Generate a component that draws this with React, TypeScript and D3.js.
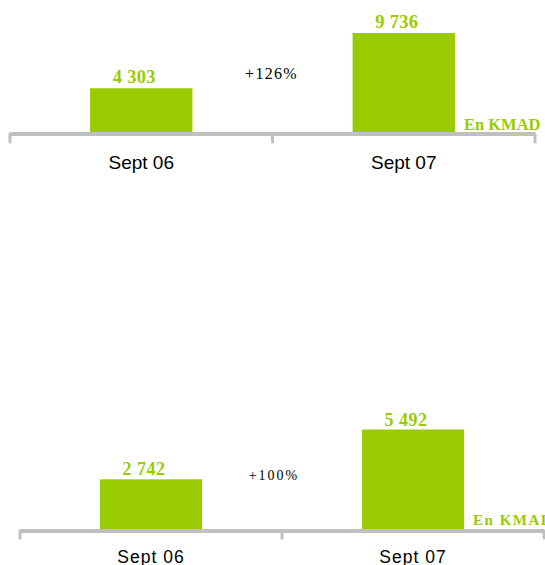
import React, { useEffect, useRef } from "react";
import * as d3 from "d3";

// Two small bar panels (top and bottom) comparing Sept 06 vs Sept 07
const periods = ["Sept 06", "Sept 07"];
const topValues = [4303, 9736];
const bottomValues = [2742, 5492];
const growthLabels = ["+126%", "+100%"];
const unitLabel = "En KMAD";

const GREEN = "#99cc00";
const GREY = "#c0c0c0";

// "4 303" style thousands separator
const fmt = d3.formatLocale({ decimal: ",", thousands: " ", grouping: [3], currency: ["", ""] }).format(",d");

type PanelLayout = {
  x0: number; x1: number; baseY: number; topY: number; axisY: number; tickLen: number;
  catY: number; catSize: number; catLs: number;
  valSize: number; valLs: number; valDx: number; valGap: number;
  growthY: number; growthDx: number; growthSize: number; growthLs: number;
  unitSize: number; unitLs: number; unitDy: number;
};

const topLayout: PanelLayout = {
  x0: 10, x1: 535, baseY: 132, topY: 33, axisY: 134, tickLen: 8,
  catY: 169, catSize: 19, catLs: 0,
  valSize: 18.5, valLs: 0.3, valDx: -7, valGap: 5.5,
  growthY: 79, growthDx: -1, growthSize: 16, growthLs: 1.3,
  unitSize: 16.5, unitLs: 0, unitDy: -2,
};

const bottomLayout: PanelLayout = {
  x0: 20, x1: 544, baseY: 529, topY: 429.5, axisY: 531, tickLen: 7,
  catY: 562.5, catSize: 17.5, catLs: 1,
  valSize: 18, valLs: 0.5, valDx: -7, valGap: 4,
  growthY: 480, growthDx: -8, growthSize: 14, growthLs: 2,
  unitSize: 15, unitLs: 1.5, unitDy: -4.5,
};

function drawPanel(g: d3.Selection<SVGGElement, unknown, null, undefined>, values: number[], growth: string, L: PanelLayout) {
  const x = d3.scaleBand<string>().domain(periods).range([L.x0, L.x1]).padding(0);
  const y = d3.scaleLinear().domain([0, d3.max(values) as number]).range([L.baseY, L.topY]);
  const barW = x.bandwidth() * 0.39;
  const data = periods.map((p, i) => ({ p, v: values[i] }));

  // bars
  g.selectAll("rect.bar")
    .data(data)
    .join("rect")
    .attr("class", "bar")
    .attr("x", (d) => (x(d.p) as number) + (x.bandwidth() - barW) / 2)
    .attr("width", barW)
    .attr("y", (d) => y(d.v))
    .attr("height", (d) => y(0) - y(d.v))
    .attr("fill", GREEN);

  // axis line + tick marks at the band edges
  const edges = [...periods.map((p) => x(p) as number), L.x1];
  g.append("line")
    .attr("x1", L.x0).attr("x2", L.x1)
    .attr("y1", L.axisY).attr("y2", L.axisY)
    .attr("stroke", GREY).attr("stroke-width", 4);
  g.selectAll("line.tick")
    .data(edges)
    .join("line")
    .attr("class", "tick")
    .attr("x1", (d) => d).attr("x2", (d) => d)
    .attr("y1", L.axisY).attr("y2", L.axisY + L.tickLen)
    .attr("stroke", GREY).attr("stroke-width", 3)
    .attr("stroke-linecap", "round");

  // category labels
  g.selectAll("text.cat")
    .data(data)
    .join("text")
    .attr("class", "cat")
    .attr("x", (d) => (x(d.p) as number) + x.bandwidth() / 2)
    .attr("y", L.catY)
    .attr("text-anchor", "middle")
    .style("font-family", "'Liberation Sans', Arial, sans-serif")
    .style("font-size", L.catSize + "px")
    .style("letter-spacing", L.catLs + "px")
    .attr("fill", "#000")
    .text((d) => d.p);

  // value labels
  g.selectAll("text.val")
    .data(data)
    .join("text")
    .attr("class", "val")
    .attr("x", (d) => (x(d.p) as number) + x.bandwidth() / 2 + L.valDx)
    .attr("y", (d) => y(d.v) - L.valGap)
    .attr("text-anchor", "middle")
    .style("font-family", "'Liberation Serif', 'Times New Roman', serif")
    .style("font-weight", "bold")
    .style("font-size", L.valSize + "px")
    .style("letter-spacing", L.valLs + "px")
    .attr("fill", GREEN)
    .text((d) => fmt(d.v));

  // growth label between the bars
  g.append("text")
    .attr("x", (x(periods[1]) as number) + L.growthDx)
    .attr("y", L.growthY)
    .attr("text-anchor", "middle")
    .style("font-family", "'Liberation Serif', 'Times New Roman', serif")
    .style("font-size", L.growthSize + "px")
    .style("letter-spacing", L.growthLs + "px")
    .attr("fill", "#000")
    .text(growth);

  // unit label right of the last bar
  const last = periods[periods.length - 1];
  g.append("text")
    .attr("x", (x(last) as number) + (x.bandwidth() + barW) / 2 + 9)
    .attr("y", L.baseY + L.unitDy)
    .style("font-family", "'Liberation Serif', 'Times New Roman', serif")
    .style("font-weight", "bold")
    .style("font-size", L.unitSize + "px")
    .style("letter-spacing", L.unitLs + "px")
    .attr("fill", GREEN)
    .text(unitLabel);
}

export default function App() {
  const ref = useRef<SVGSVGElement>(null);

  useEffect(() => {
    const svg = d3.select(ref.current);
    svg.selectAll("*").remove();
    drawPanel(svg.append("g"), topValues, growthLabels[0], topLayout);
    drawPanel(svg.append("g"), bottomValues, growthLabels[1], bottomLayout);
  }, []);

  return (
    <svg
      ref={ref}
      width={545}
      height={565}
      style={{ position: "absolute", left: 0, top: 0, background: "#fff" }}
    />
  );
}
